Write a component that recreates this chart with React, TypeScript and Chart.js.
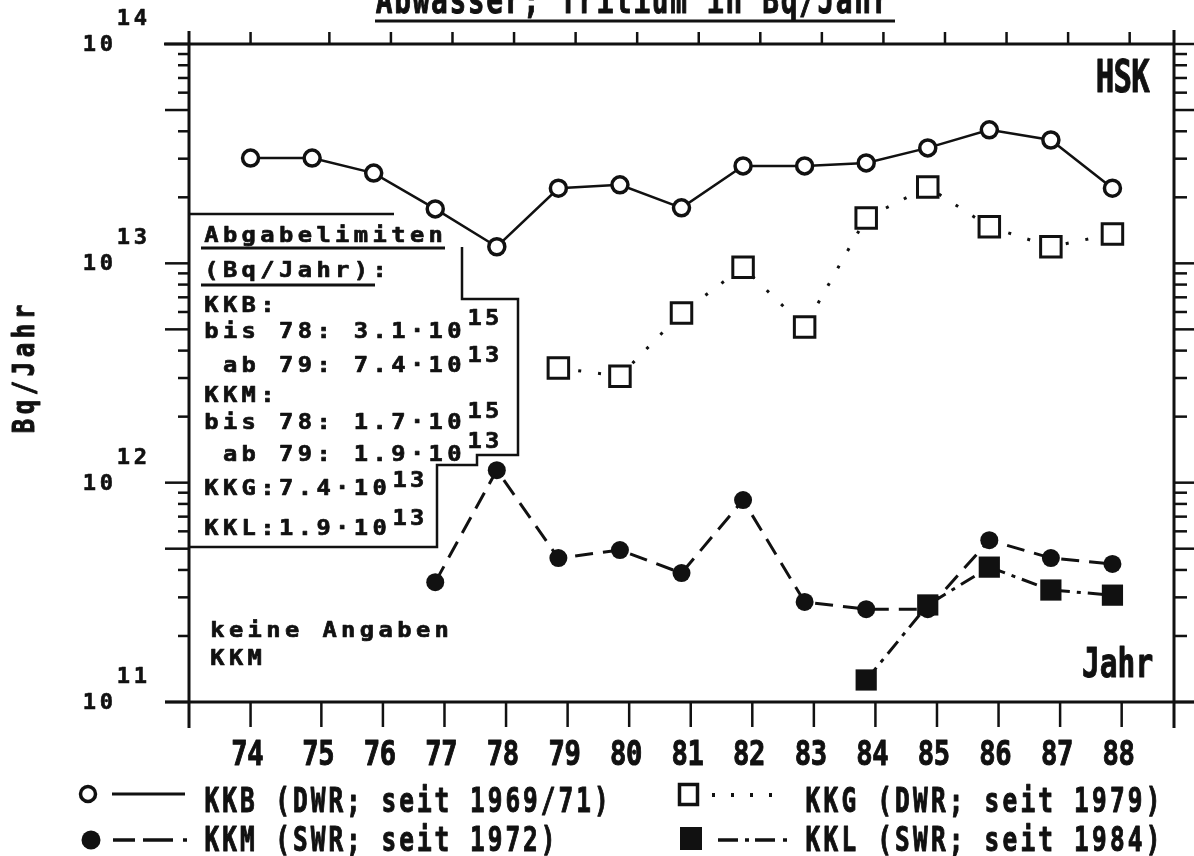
import React, { useEffect, useRef } from 'react';
import { Chart, registerables } from 'chart.js';

Chart.register(...registerables);

// ---------------- data ----------------
const years = [74, 75, 76, 77, 78, 79, 80, 81, 82, 83, 84, 85, 86, 87, 88];
const xTickLabels = ['74', '75', '76', '77', '78', '79', '80', '81', '82', '83', '84', '85', '86', '87', '88'];
// Bq/Jahr
const kkb = [3.02e13, 3.02e13, 2.58e13, 1.77e13, 1.19e13, 2.2e13, 2.28e13, 1.79e13, 2.78e13, 2.78e13, 2.87e13, 3.36e13, 4.06e13, 3.65e13, 2.2e13];
const kkg = [null, null, null, null, null, 3.33e12, 3.06e12, 5.93e12, 9.6e12, 5.13e12, 1.61e13, 2.23e13, 1.47e13, 1.19e13, 1.36e13];
const kkm = [null, null, null, 3.52e11, 1.14e12, 4.53e11, 4.93e11, 3.87e11, 8.33e11, 2.86e11, 2.65e11, 2.65e11, 5.47e11, 4.53e11, 4.26e11];
const kkl = [null, null, null, null, null, null, null, null, null, null, 1.26e11, 2.77e11, 4.12e11, 3.24e11, 3.07e11];
const yExponents = [11, 12, 13, 14];
const minorMultipliers = [2, 3, 4, 5, 6, 7, 8, 9];

const titleText = 'Abwasser; Tritium in Bq/Jahr';
const yTitle = 'Bq/Jahr';
const legendLabels = ['KKB (DWR; seit 1969/71)', 'KKG (DWR; seit 1979)', 'KKM (SWR; seit 1972)', 'KKL (SWR; seit 1984)'];
const boxLines: [string, string][] = [
  ['Abgabelimiten', ''],
  ['(Bq/Jahr):', ''],
  ['KKB:', ''],
  ['bis 78: 3.1·10', '15'],
  [' ab 79: 7.4·10', '13'],
  ['KKM:', ''],
  ['bis 78: 1.7·10', '15'],
  [' ab 79: 1.9·10', '13'],
  ['KKG:7.4·10', '13'],
  ['KKL:1.9·10', '13'],
];
const noteLines = ['keine Angaben', 'KKM'];

// ---------------- layout ----------------
const W = 1194;
const H = 856;
const INK = '#111';
const MONO = '"DejaVu Sans Mono"';

const toPts = (arr: (number | null)[]) => years.map((yr, i) => ({ x: yr, y: arr[i] }));

function drawCells(
  ctx: CanvasRenderingContext2D,
  text: string,
  x0: number,
  baseline: number,
  adv: number,
  size: number,
  sx: number,
  bold = 0
) {
  ctx.save();
  ctx.font = `bold ${size}px ${MONO}`;
  ctx.textAlign = 'center';
  ctx.textBaseline = 'alphabetic';
  ctx.fillStyle = INK;
  ctx.strokeStyle = INK;
  ctx.lineJoin = 'round';
  for (let i = 0; i < text.length; i++) {
    const ch = text[i];
    if (ch === ' ') continue;
    ctx.save();
    ctx.translate(x0 + (i + 0.5) * adv, baseline);
    ctx.scale(sx, 1);
    ctx.fillText(ch, 0, 0);
    if (bold > 0) {
      ctx.lineWidth = bold;
      ctx.strokeText(ch, 0, 0);
    }
    ctx.restore();
  }
  ctx.restore();
}

function seg(ctx: CanvasRenderingContext2D, x1: number, y1: number, x2: number, y2: number) {
  ctx.beginPath();
  ctx.moveTo(x1, y1);
  ctx.lineTo(x2, y2);
  ctx.stroke();
}

const decorPlugin = {
  id: 'decor',
  afterDraw(chart: any) {
    const ctx: CanvasRenderingContext2D = chart.ctx;
    const xs = chart.scales.x;
    const ys = chart.scales.y;
    const { left, right, top, bottom } = chart.chartArea;
    ctx.save();
    ctx.strokeStyle = INK;
    ctx.fillStyle = INK;
    ctx.lineCap = 'butt';

    // axes frame
    ctx.lineWidth = 3;
    seg(ctx, 164, top, right, top);
    seg(ctx, 165, bottom, W, bottom);
    seg(ctx, left, 31, left, 728);
    seg(ctx, right, 30, right, 728);

    // y ticks
    ctx.lineWidth = 2.5;
    yExponents.forEach((e) => {
      const pMajor = ys.getPixelForValue(Math.pow(10, e));
      seg(ctx, 165, pMajor, left, pMajor);
      seg(ctx, right, pMajor, W, pMajor);
      if (e === 14) return;
      minorMultipliers.forEach((m) => {
        const p = ys.getPixelForValue(m * Math.pow(10, e));
        const long = m === 5;
        seg(ctx, long ? 165 : 178, p, left, p);
        seg(ctx, right, p, long ? W : 1187, p);
      });
    });

    // x ticks (bottom and top)
    years.forEach((yr, i) => {
      const pb = xs.getPixelForValue(i === 0 ? yr : yr + 0.15);
      seg(ctx, pb, bottom, pb, 727);
      const pt = xs.getPixelForValue(i === 0 ? yr : yr + 0.28);
      seg(ctx, pt, top, pt, 32);
    });

    // y tick labels 10^n
    yExponents.forEach((e) => {
      const p = ys.getPixelForValue(Math.pow(10, e));
      drawCells(ctx, '10', 81, p + 7, 17, 21, 1.05, 0.6);
      drawCells(ctx, String(e), 115, p - 19, 17, 21, 1.05, 0.6);
    });

    // x tick labels
    xTickLabels.forEach((lab, i) => {
      const c = xs.getPixelForValue(i === 0 ? years[i] : years[i] + 0.15) - 3;
      drawCells(ctx, lab, c - lab.length * 8, 765, 16, 34, 0.8, 1);
    });

    // title (partially cut at top)
    drawCells(ctx, titleText, 375, 13, 18.4, 37, 0.75, 1);
    ctx.lineWidth = 3;
    seg(ctx, 375, 21, 895, 21);

    // y axis title
    ctx.save();
    ctx.translate(34, 369);
    ctx.rotate(-Math.PI / 2);
    drawCells(ctx, yTitle, -yTitle.length * 9.5, 0, 19, 30, 0.8, 1);
    ctx.restore();

    // HSK, Jahr
    drawCells(ctx, 'HSK', 1096, 92, 17.8, 44, 0.7, 1);
    drawCells(ctx, 'Jahr', 1082, 677, 17.8, 41, 0.72, 1);

    // limits box
    const baselines = [242, 277, 312, 338, 372, 402, 429, 461, 495, 535];
    const supBase = [0, 0, 0, 325, 362, 0, 418, 448, 487, 525];
    boxLines.forEach(([t, sup], i) => {
      drawCells(ctx, t, 202, baselines[i], 18.7, 22, 1.08, 0.7);
      if (sup) drawCells(ctx, sup, 202 + t.length * 18.7 + 2, supBase[i], 17.5, 22, 1.08, 0.7);
    });
    ctx.lineWidth = 3;
    seg(ctx, 201, 248, 445, 248);
    seg(ctx, 201, 285, 375, 285);
    ctx.lineWidth = 2.5;
    seg(ctx, left, 214, 394, 214);
    ctx.beginPath();
    ctx.moveTo(462, 247);
    ctx.lineTo(462, 299);
    ctx.lineTo(518, 299);
    ctx.lineTo(518, 455);
    ctx.lineTo(477, 455);
    ctx.lineTo(477, 465);
    ctx.lineTo(437, 465);
    ctx.lineTo(437, 547);
    ctx.lineTo(left, 547);
    ctx.stroke();

    // note
    drawCells(ctx, noteLines[0], 208, 637, 18.7, 22, 1.08, 0.7);
    drawCells(ctx, noteLines[1], 208, 665, 18.7, 22, 1.08, 0.7);

    // legend
    // row 1 left: open circle, solid
    ctx.lineWidth = 3.5;
    ctx.beginPath();
    ctx.arc(88, 794, 7.5, 0, Math.PI * 2);
    ctx.fillStyle = '#fff';
    ctx.fill();
    ctx.stroke();
    ctx.fillStyle = INK;
    ctx.lineWidth = 3;
    seg(ctx, 112, 794, 185, 794);
    // row 2 left: filled circle, dashed
    ctx.beginPath();
    ctx.arc(91, 840, 9.5, 0, Math.PI * 2);
    ctx.fill();
    ctx.lineWidth = 3.5;
    seg(ctx, 113, 840, 135, 840);
    seg(ctx, 143, 840, 173, 840);
    seg(ctx, 183, 840, 187, 840);
    // row 1 right: open square, dotted
    ctx.lineWidth = 3.5;
    ctx.strokeRect(679.5, 784.5, 18, 20);
    ctx.lineWidth = 4;
    [712, 731, 750, 769].forEach((x) => seg(ctx, x, 795, x + 3, 795));
    // row 2 right: filled square, dash-dot
    ctx.fillRect(680, 827, 22, 23);
    ctx.lineWidth = 3.5;
    seg(ctx, 718, 840, 738, 840);
    seg(ctx, 745, 840, 749, 840);
    seg(ctx, 755, 840, 775, 840);
    seg(ctx, 783, 840, 787, 840);

    drawCells(ctx, legendLabels[0], 203, 812, 17.7, 33, 0.74, 1);
    drawCells(ctx, legendLabels[1], 804, 812, 17.9, 33, 0.74, 1);
    drawCells(ctx, legendLabels[2], 203, 851, 17.7, 33, 0.74, 1);
    drawCells(ctx, legendLabels[3], 804, 851, 17.9, 33, 0.74, 1);

    ctx.restore();
  },
};

export default function App() {
  const ref = useRef<HTMLCanvasElement>(null);
  useEffect(() => {
    if (!ref.current) return;
    const chart = new Chart(ref.current, {
      type: 'line',
      data: {
        datasets: [
          {
            label: 'KKB',
            data: toPts(kkb) as any,
            borderColor: INK,
            borderWidth: 2.5,
            pointStyle: 'circle',
            pointRadius: 8,
            pointBorderWidth: 3.5,
            pointBackgroundColor: '#fff',
            pointBorderColor: INK,
          },
          {
            label: 'KKG',
            data: toPts(kkg) as any,
            borderColor: INK,
            borderWidth: 3,
            borderDash: [3, 17],
            borderCapStyle: 'butt',
            pointStyle: 'rect',
            pointRadius: 14.5,
            pointBorderWidth: 3,
            pointBackgroundColor: '#fff',
            pointBorderColor: INK,
          },
          {
            label: 'KKL',
            data: toPts(kkl) as any,
            borderColor: INK,
            borderWidth: 3,
            borderDash: [16, 7, 4, 7],
            pointStyle: 'rect',
            pointRadius: 15,
            pointBorderWidth: 0,
            pointBackgroundColor: INK,
            pointBorderColor: INK,
          },
          {
            label: 'KKM',
            data: toPts(kkm) as any,
            borderColor: INK,
            borderWidth: 3,
            borderDash: [18, 10],
            pointStyle: 'circle',
            pointRadius: 9,
            pointBorderWidth: 0,
            pointBackgroundColor: INK,
            pointBorderColor: INK,
          },
        ],
      },
      options: {
        responsive: false,
        devicePixelRatio: 1,
        animation: false,
        spanGaps: false,
        layout: { padding: { left: 189, top: 44, right: 20, bottom: 154 } },
        plugins: { legend: { display: false }, tooltip: { enabled: false } },
        scales: {
          x: { type: 'linear', min: 73, max: 89, display: false },
          y: { type: 'logarithmic', min: 1e11, max: 1e14, display: false },
        },
      },
      plugins: [decorPlugin],
    });
    return () => chart.destroy();
  }, []);
  return (
    <div style={{ position: 'absolute', left: 0, top: 0, width: W, height: H, background: '#fff' }}>
      <canvas ref={ref} width={W} height={H} style={{ width: W, height: H, display: 'block' }} />
    </div>
  );
}
